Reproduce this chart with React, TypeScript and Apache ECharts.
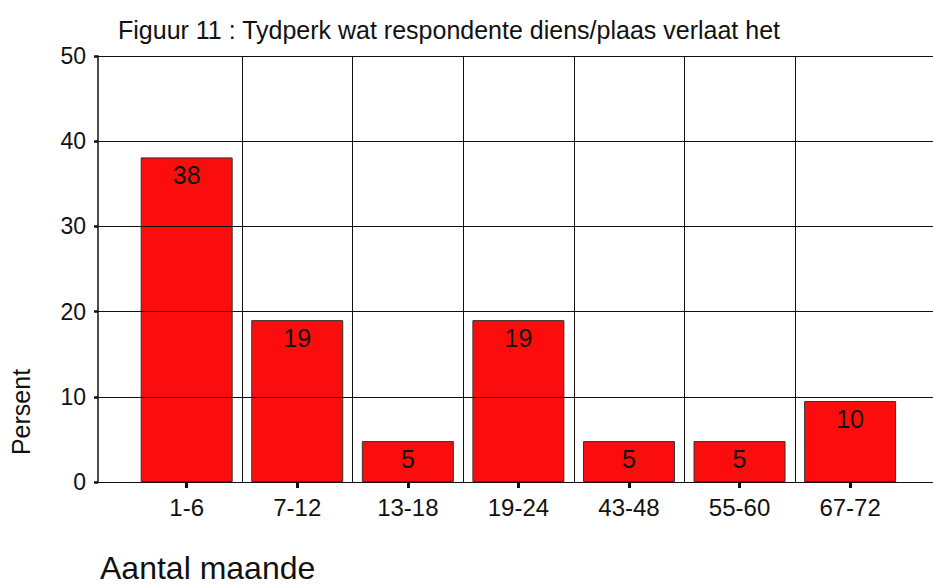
import React, { useEffect, useRef } from 'react';
import * as echarts from 'echarts';

const chartTitle = 'Figuur 11 : Tydperk wat respondente diens/plaas verlaat het';
const categories = ['1-6', '7-12', '13-18', '19-24', '43-48', '55-60', '67-72'];
const percentages = [38.1, 19.0, 4.8, 19.0, 4.8, 4.8, 9.5];
const yMin = 0;
const yMax = 50;
const yInterval = 10;
const yAxisTitle = 'Persent';
const xAxisTitle = 'Aantal maande';

const FONT = "'Liberation Sans', Arial, sans-serif";
const INK = '#111';
const TOP = 56;
const BOTTOM = 104;

export default function App() {
  const ref = useRef<HTMLDivElement>(null);

  useEffect(() => {
    if (!ref.current) return;
    const chart = echarts.init(ref.current, null, { renderer: 'svg' });
    chart.setOption({
      animation: false,
      backgroundColor: '#fff',
      title: {
        text: chartTitle,
        left: 113,
        top: 12,
        textStyle: { fontSize: 25, fontWeight: 'normal', color: INK, fontFamily: FONT },
      },
      grid: [
        { left: 98, right: 0, top: TOP, bottom: BOTTOM },
        { left: 131.4, right: 27.6, top: TOP, bottom: BOTTOM },
        { left: 242, right: 138, top: TOP, bottom: BOTTOM },
      ],
      xAxis: [
        { gridIndex: 0, type: 'value', min: 0, max: 1, show: false },
        {
          gridIndex: 1,
          type: 'category',
          data: categories,
          axisLine: { show: false },
          axisTick: { show: true, alignWithLabel: true, length: 6, lineStyle: { width: 3, color: INK } },
          axisLabel: { fontSize: 24, color: INK, margin: 13, fontFamily: FONT },
          splitLine: { show: false },
        },
        {
          gridIndex: 2,
          type: 'value',
          min: 0,
          max: categories.length - 2,
          interval: 1,
          axisLine: { show: false },
          axisTick: { show: false },
          axisLabel: { show: false },
          splitLine: { show: true, lineStyle: { color: INK, width: 1 } },
          z: 10,
        },
      ],
      yAxis: [
        {
          gridIndex: 0,
          type: 'value',
          min: yMin,
          max: yMax,
          interval: yInterval,
          axisLine: { show: true, lineStyle: { color: INK, width: 1.5 } },
          axisTick: { show: true, length: 4, lineStyle: { width: 2.5, color: INK } },
          axisLabel: { fontSize: 23, color: INK, margin: 12, fontFamily: FONT },
          splitLine: { show: true, lineStyle: { color: INK, width: 1 } },
          z: 10,
        },
        { gridIndex: 1, type: 'value', min: yMin, max: yMax, show: false, splitLine: { show: false } },
        { gridIndex: 2, type: 'value', min: yMin, max: yMax, show: false, splitLine: { show: false } },
      ],
      series: [
        {
          type: 'bar',
          xAxisIndex: 1,
          yAxisIndex: 1,
          data: percentages,
          barWidth: 92,
          itemStyle: { color: '#fb0d0d', borderColor: '#333', borderWidth: 1 },
          label: {
            show: true,
            position: 'insideTop',
            distance: 5,
            formatter: (p: any) => String(Math.round(p.value)),
            fontSize: 25,
            color: INK,
            fontFamily: FONT,
          },
        },
      ],
      graphic: [
        {
          type: 'text',
          x: 21,
          y: 412,
          rotation: Math.PI / 2,
          style: {
            text: yAxisTitle,
            fontSize: 25,
            fontFamily: FONT,
            fill: INK,
            align: 'center',
            verticalAlign: 'middle',
          },
        },
        {
          type: 'text',
          x: 100,
          y: 568,
          style: {
            text: xAxisTitle,
            fontSize: 32,
            fontFamily: FONT,
            fill: INK,
            align: 'left',
            verticalAlign: 'middle',
          },
        },
      ],
    });
    return () => chart.dispose();
  }, []);

  return (
    <div
      ref={ref}
      style={{ position: 'fixed', left: 0, top: 0, width: 933, height: 586, background: '#fff' }}
    />
  );
}
